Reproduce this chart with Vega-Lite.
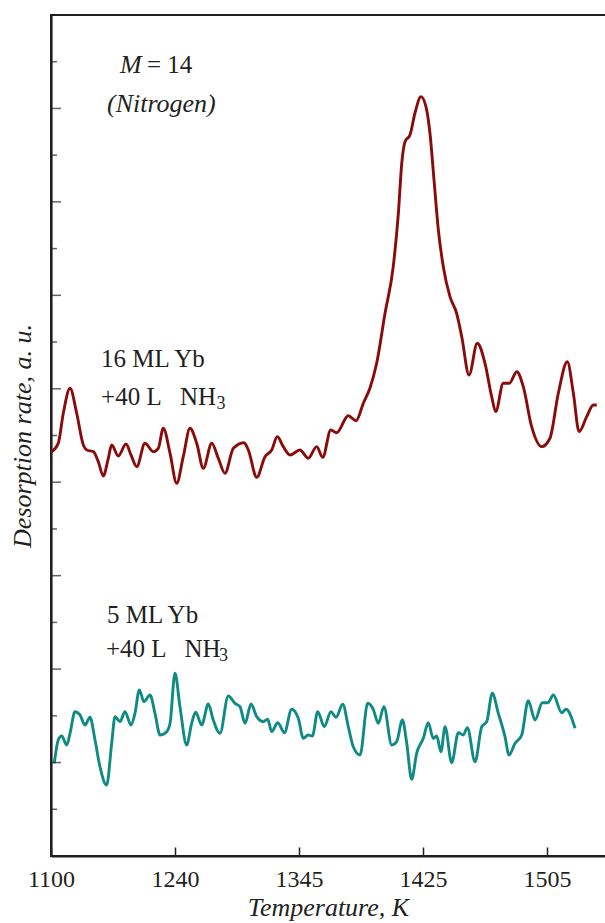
{
  "$schema": "https://vega.github.io/schema/vega-lite/v6.json",
  "width": 556,
  "height": 841,
  "autosize": {"type": "none"},
  "padding": {"left": 51, "top": 15, "right": 0, "bottom": 67},
  "background": "white",
  "view": {"stroke": "#231f20", "strokeWidth": 2},
  "config": {
    "font": "Liberation Serif",
    "axis": {"domainColor": "#231f20", "tickColor": "#231f20", "labelColor": "#231f20", "titleColor": "#231f20", "grid": false, "labelFont": "Liberation Serif", "titleFont": "Liberation Serif"},
    "text": {"font": "Liberation Serif"}
  },
  "datasets": {
    "curves": [
      {"series": "16 ML", "T": 1100.8, "V": 8.654},
      {"series": "16 ML", "T": 1108.2, "V": 8.833},
      {"series": "16 ML", "T": 1113.9, "V": 9.476},
      {"series": "16 ML", "T": 1121.5, "V": 10.011},
      {"series": "16 ML", "T": 1129.0, "V": 9.476},
      {"series": "16 ML", "T": 1136.5, "V": 8.797},
      {"series": "16 ML", "T": 1140.3, "V": 8.690},
      {"series": "16 ML", "T": 1147.8, "V": 8.654},
      {"series": "16 ML", "T": 1153.4, "V": 8.440},
      {"series": "16 ML", "T": 1159.0, "V": 8.134},
      {"series": "16 ML", "T": 1164.7, "V": 8.512},
      {"series": "16 ML", "T": 1168.5, "V": 8.797},
      {"series": "16 ML", "T": 1176.0, "V": 8.562},
      {"series": "16 ML", "T": 1184.7, "V": 8.818},
      {"series": "16 ML", "T": 1190.3, "V": 8.583},
      {"series": "16 ML", "T": 1196.8, "V": 8.333},
      {"series": "16 ML", "T": 1206.1, "V": 8.833},
      {"series": "16 ML", "T": 1215.5, "V": 8.654},
      {"series": "16 ML", "T": 1221.1, "V": 8.726},
      {"series": "16 ML", "T": 1226.8, "V": 9.155},
      {"series": "16 ML", "T": 1234.4, "V": 8.619},
      {"series": "16 ML", "T": 1241.4, "V": 7.977},
      {"series": "16 ML", "T": 1247.0, "V": 8.547},
      {"series": "16 ML", "T": 1252.7, "V": 9.155},
      {"series": "16 ML", "T": 1258.4, "V": 8.833},
      {"series": "16 ML", "T": 1264.0, "V": 8.298},
      {"series": "16 ML", "T": 1271.1, "V": 8.833},
      {"series": "16 ML", "T": 1276.7, "V": 8.512},
      {"series": "16 ML", "T": 1282.3, "V": 8.191},
      {"series": "16 ML", "T": 1289.4, "V": 8.726},
      {"series": "16 ML", "T": 1298.4, "V": 8.846},
      {"series": "16 ML", "T": 1302.1, "V": 8.690},
      {"series": "16 ML", "T": 1309.2, "V": 8.106},
      {"series": "16 ML", "T": 1316.2, "V": 8.547},
      {"series": "16 ML", "T": 1321.9, "V": 8.690},
      {"series": "16 ML", "T": 1326.6, "V": 8.975},
      {"series": "16 ML", "T": 1331.7, "V": 8.761},
      {"series": "16 ML", "T": 1337.4, "V": 8.583},
      {"series": "16 ML", "T": 1345.6, "V": 8.690},
      {"series": "16 ML", "T": 1351.0, "V": 8.512},
      {"series": "16 ML", "T": 1356.4, "V": 8.761},
      {"series": "16 ML", "T": 1360.3, "V": 8.534},
      {"series": "16 ML", "T": 1365.5, "V": 9.118},
      {"series": "16 ML", "T": 1369.3, "V": 9.060},
      {"series": "16 ML", "T": 1376.8, "V": 9.424},
      {"series": "16 ML", "T": 1381.8, "V": 9.317},
      {"series": "16 ML", "T": 1386.5, "V": 9.690},
      {"series": "16 ML", "T": 1390.8, "V": 10.017},
      {"series": "16 ML", "T": 1395.1, "V": 10.546},
      {"series": "16 ML", "T": 1400.5, "V": 11.616},
      {"series": "16 ML", "T": 1405.8, "V": 12.614},
      {"series": "16 ML", "T": 1409.1, "V": 13.756},
      {"series": "16 ML", "T": 1411.3, "V": 14.827},
      {"series": "16 ML", "T": 1413.4, "V": 15.289},
      {"series": "16 ML", "T": 1416.6, "V": 15.432},
      {"series": "16 ML", "T": 1419.8, "V": 15.897},
      {"series": "16 ML", "T": 1423.7, "V": 16.252},
      {"series": "16 ML", "T": 1426.9, "V": 16.038},
      {"series": "16 ML", "T": 1429.5, "V": 15.469},
      {"series": "16 ML", "T": 1432.1, "V": 14.469},
      {"series": "16 ML", "T": 1434.9, "V": 13.399},
      {"series": "16 ML", "T": 1438.1, "V": 12.614},
      {"series": "16 ML", "T": 1442.4, "V": 11.971},
      {"series": "16 ML", "T": 1446.7, "V": 11.616},
      {"series": "16 ML", "T": 1450.0, "V": 11.115},
      {"series": "16 ML", "T": 1454.7, "V": 10.295},
      {"series": "16 ML", "T": 1460.0, "V": 10.974},
      {"series": "16 ML", "T": 1465.0, "V": 10.546},
      {"series": "16 ML", "T": 1469.3, "V": 9.831},
      {"series": "16 ML", "T": 1471.9, "V": 9.510},
      {"series": "16 ML", "T": 1476.8, "V": 10.118},
      {"series": "16 ML", "T": 1480.7, "V": 10.118},
      {"series": "16 ML", "T": 1485.5, "V": 10.366},
      {"series": "16 ML", "T": 1489.7, "V": 10.045},
      {"series": "16 ML", "T": 1495.1, "V": 9.189},
      {"series": "16 ML", "T": 1501.6, "V": 8.761},
      {"series": "16 ML", "T": 1506.9, "V": 8.941},
      {"series": "16 ML", "T": 1512.3, "V": 9.904},
      {"series": "16 ML", "T": 1518.1, "V": 10.580},
      {"series": "16 ML", "T": 1522.0, "V": 9.904},
      {"series": "16 ML", "T": 1525.7, "V": 9.082},
      {"series": "16 ML", "T": 1530.6, "V": 9.403},
      {"series": "16 ML", "T": 1534.9, "V": 9.653},
      {"series": "16 ML", "T": 1537.1, "V": 9.653},
      {"series": "5 ML", "T": 1103.7, "V": 1.984},
      {"series": "5 ML", "T": 1108.2, "V": 2.483},
      {"series": "5 ML", "T": 1112.1, "V": 2.568},
      {"series": "5 ML", "T": 1117.7, "V": 2.376},
      {"series": "5 ML", "T": 1121.5, "V": 2.626},
      {"series": "5 ML", "T": 1127.1, "V": 3.089},
      {"series": "5 ML", "T": 1132.7, "V": 3.018},
      {"series": "5 ML", "T": 1138.4, "V": 2.804},
      {"series": "5 ML", "T": 1144.0, "V": 2.969},
      {"series": "5 ML", "T": 1149.7, "V": 2.483},
      {"series": "5 ML", "T": 1155.3, "V": 1.911},
      {"series": "5 ML", "T": 1162.9, "V": 1.520},
      {"series": "5 ML", "T": 1168.5, "V": 2.412},
      {"series": "5 ML", "T": 1172.3, "V": 2.982},
      {"series": "5 ML", "T": 1177.9, "V": 2.875},
      {"series": "5 ML", "T": 1183.5, "V": 3.089},
      {"series": "5 ML", "T": 1190.3, "V": 2.804},
      {"series": "5 ML", "T": 1194.8, "V": 3.054},
      {"series": "5 ML", "T": 1199.7, "V": 3.553},
      {"series": "5 ML", "T": 1205.0, "V": 3.303},
      {"series": "5 ML", "T": 1211.8, "V": 3.446},
      {"series": "5 ML", "T": 1217.4, "V": 3.054},
      {"series": "5 ML", "T": 1223.1, "V": 2.590},
      {"series": "5 ML", "T": 1230.6, "V": 2.661},
      {"series": "5 ML", "T": 1234.4, "V": 2.840},
      {"series": "5 ML", "T": 1240.0, "V": 3.911},
      {"series": "5 ML", "T": 1244.2, "V": 3.196},
      {"series": "5 ML", "T": 1249.9, "V": 2.376},
      {"series": "5 ML", "T": 1254.1, "V": 2.840},
      {"series": "5 ML", "T": 1257.5, "V": 3.076},
      {"series": "5 ML", "T": 1262.6, "V": 2.804},
      {"series": "5 ML", "T": 1268.2, "V": 3.253},
      {"series": "5 ML", "T": 1272.4, "V": 2.911},
      {"series": "5 ML", "T": 1278.1, "V": 2.626},
      {"series": "5 ML", "T": 1285.1, "V": 3.425},
      {"series": "5 ML", "T": 1290.8, "V": 3.268},
      {"series": "5 ML", "T": 1295.0, "V": 3.196},
      {"series": "5 ML", "T": 1299.3, "V": 2.840},
      {"series": "5 ML", "T": 1304.4, "V": 3.253},
      {"series": "5 ML", "T": 1309.2, "V": 2.982},
      {"series": "5 ML", "T": 1314.8, "V": 2.875},
      {"series": "5 ML", "T": 1318.5, "V": 2.926},
      {"series": "5 ML", "T": 1321.9, "V": 2.661},
      {"series": "5 ML", "T": 1327.0, "V": 2.853},
      {"series": "5 ML", "T": 1332.6, "V": 2.639},
      {"series": "5 ML", "T": 1338.8, "V": 3.140},
      {"series": "5 ML", "T": 1344.4, "V": 2.947},
      {"series": "5 ML", "T": 1347.8, "V": 2.519},
      {"series": "5 ML", "T": 1351.0, "V": 2.590},
      {"series": "5 ML", "T": 1353.6, "V": 2.568},
      {"series": "5 ML", "T": 1357.1, "V": 3.089},
      {"series": "5 ML", "T": 1361.3, "V": 2.768},
      {"series": "5 ML", "T": 1365.6, "V": 3.089},
      {"series": "5 ML", "T": 1368.9, "V": 2.969},
      {"series": "5 ML", "T": 1373.2, "V": 3.247},
      {"series": "5 ML", "T": 1376.8, "V": 2.768},
      {"series": "5 ML", "T": 1380.0, "V": 2.339},
      {"series": "5 ML", "T": 1384.4, "V": 2.162},
      {"series": "5 ML", "T": 1389.3, "V": 3.268},
      {"series": "5 ML", "T": 1392.9, "V": 3.140},
      {"series": "5 ML", "T": 1396.2, "V": 2.840},
      {"series": "5 ML", "T": 1399.8, "V": 3.196},
      {"series": "5 ML", "T": 1404.8, "V": 2.376},
      {"series": "5 ML", "T": 1408.0, "V": 2.446},
      {"series": "5 ML", "T": 1411.7, "V": 2.911},
      {"series": "5 ML", "T": 1414.5, "V": 2.412},
      {"series": "5 ML", "T": 1417.7, "V": 1.642},
      {"series": "5 ML", "T": 1420.9, "V": 2.198},
      {"series": "5 ML", "T": 1425.2, "V": 2.519},
      {"series": "5 ML", "T": 1428.4, "V": 2.853},
      {"series": "5 ML", "T": 1431.6, "V": 2.519},
      {"series": "5 ML", "T": 1433.8, "V": 2.568},
      {"series": "5 ML", "T": 1436.6, "V": 2.232},
      {"series": "5 ML", "T": 1439.2, "V": 2.768},
      {"series": "5 ML", "T": 1443.5, "V": 1.997},
      {"series": "5 ML", "T": 1447.8, "V": 2.639},
      {"series": "5 ML", "T": 1451.0, "V": 2.590},
      {"series": "5 ML", "T": 1453.6, "V": 2.746},
      {"series": "5 ML", "T": 1458.6, "V": 2.018},
      {"series": "5 ML", "T": 1462.9, "V": 2.768},
      {"series": "5 ML", "T": 1466.1, "V": 2.875},
      {"series": "5 ML", "T": 1469.7, "V": 3.482},
      {"series": "5 ML", "T": 1473.6, "V": 3.054},
      {"series": "5 ML", "T": 1477.9, "V": 2.554},
      {"series": "5 ML", "T": 1480.5, "V": 2.162},
      {"series": "5 ML", "T": 1484.4, "V": 2.412},
      {"series": "5 ML", "T": 1488.7, "V": 2.590},
      {"series": "5 ML", "T": 1492.9, "V": 3.324},
      {"series": "5 ML", "T": 1497.3, "V": 2.911},
      {"series": "5 ML", "T": 1502.0, "V": 3.281},
      {"series": "5 ML", "T": 1505.5, "V": 3.281},
      {"series": "5 ML", "T": 1509.1, "V": 3.446},
      {"series": "5 ML", "T": 1514.5, "V": 3.067},
      {"series": "5 ML", "T": 1517.3, "V": 3.140},
      {"series": "5 ML", "T": 1523.1, "V": 2.733}
    ]
  },
  "layer": [
    {
      "data": {"name": "curves"},
      "mark": {"type": "line", "interpolate": "monotone", "strokeWidth": 2.9},
      "encoding": {
        "x": {
          "field": "T", "type": "quantitative",
          "scale": {"domain": [1100, 1240, 1345, 1425, 1505, 1542.4], "range": [0, 124, 248, 372, 496, 554], "nice": false, "zero": false},
          "axis": {
            "orient": "bottom",
            "values": [1100, 1240, 1345, 1425, 1505],
            "format": "d",
            "tickSize": -9, "tickWidth": 1.5, "domainWidth": 2.2,
            "labelFontSize": 24, "labelFont": "Liberation Serif", "labelPadding": 20,
            "labelFlush": false, "labelOverlap": false,
            "title": "Temperature, K", "titleFont": "Liberation Serif", "titleFontSize": 26,
            "titleFontStyle": "italic", "titleFontWeight": "normal", "titlePadding": 3
          }
        },
        "y": {
          "field": "V", "type": "quantitative",
          "scale": {"domain": [0, 18], "nice": false, "zero": false},
          "axis": {
            "orient": "left",
            "values": [1, 2, 3, 4, 5, 6, 7, 8, 9, 10, 11, 12, 13, 14, 15, 16, 17],
            "labels": false, "ticks": false, "domain": true, "domainWidth": 2.2,
            "title": "Desorption rate, a. u.", "titleFont": "Liberation Serif", "titleFontSize": 26,
            "titleFontStyle": "italic", "titleFontWeight": "normal", "titlePadding": 16
          }
        },
        "color": {
          "field": "series", "type": "nominal",
          "scale": {"domain": ["16 ML", "5 ML"], "range": ["#8b0a0a", "#0f8a84"]},
          "legend": null
        }
      }
    },
    {
      "data": {"values": [{"v": 2}, {"v": 4}, {"v": 6}, {"v": 8}, {"v": 10}, {"v": 12}, {"v": 14}, {"v": 16}]},
      "mark": {"type": "tick", "orient": "horizontal", "size": 10, "thickness": 1.5, "xOffset": 5, "color": "#231f20"},
      "encoding": {
        "y": {"field": "v", "type": "quantitative"},
        "x": {"datum": 1100, "type": "quantitative"}
      }
    },
    {
      "data": {"values": [{"v": 1}, {"v": 3}, {"v": 5}, {"v": 7}, {"v": 9}, {"v": 11}, {"v": 13}, {"v": 15}, {"v": 17}]},
      "mark": {"type": "tick", "orient": "horizontal", "size": 6, "thickness": 1.5, "xOffset": 3, "color": "#231f20"},
      "encoding": {
        "y": {"field": "v", "type": "quantitative"},
        "x": {"datum": 1100, "type": "quantitative"}
      }
    },
    {
      "data": {"values": [
        {"T": 1208.4, "V": 16.76, "label": "= 14"},
        {"T": 1156.5, "V": 10.467, "label": "16 ML Yb"},
        {"T": 1156.5, "V": 9.653, "label": "+40 L"},
        {"T": 1244.2, "V": 9.653, "label": "NH"},
        {"T": 1163.2, "V": 4.987, "label": "5 ML Yb"},
        {"T": 1162.1, "V": 4.259, "label": "+40 L"},
        {"T": 1248.0, "V": 4.259, "label": "NH"}
      ]},
      "mark": {"type": "text", "align": "left", "baseline": "alphabetic", "fontSize": 25, "font": "Liberation Serif", "color": "#231f20"},
      "encoding": {
        "x": {"field": "T", "type": "quantitative"},
        "y": {"field": "V", "type": "quantitative"},
        "text": {"field": "label"}
      }
    },
    {
      "data": {"values": [
        {"T": 1177.9, "V": 16.76, "label": "M"},
        {"T": 1163.2, "V": 15.925, "label": "(Nitrogen)"}
      ]},
      "mark": {"type": "text", "align": "left", "baseline": "alphabetic", "fontSize": 26, "fontStyle": "italic", "font": "Liberation Serif", "color": "#231f20"},
      "encoding": {
        "x": {"field": "T", "type": "quantitative"},
        "y": {"field": "V", "type": "quantitative"},
        "text": {"field": "label"}
      }
    },
    {
      "data": {"values": [
        {"T": 1275.1, "V": 9.568, "label": "3"},
        {"T": 1277.3, "V": 4.174, "label": "3"}
      ]},
      "mark": {"type": "text", "align": "left", "baseline": "alphabetic", "fontSize": 18, "font": "Liberation Serif", "color": "#231f20"},
      "encoding": {
        "x": {"field": "T", "type": "quantitative"},
        "y": {"field": "V", "type": "quantitative"},
        "text": {"field": "label"}
      }
    }
  ]
}
